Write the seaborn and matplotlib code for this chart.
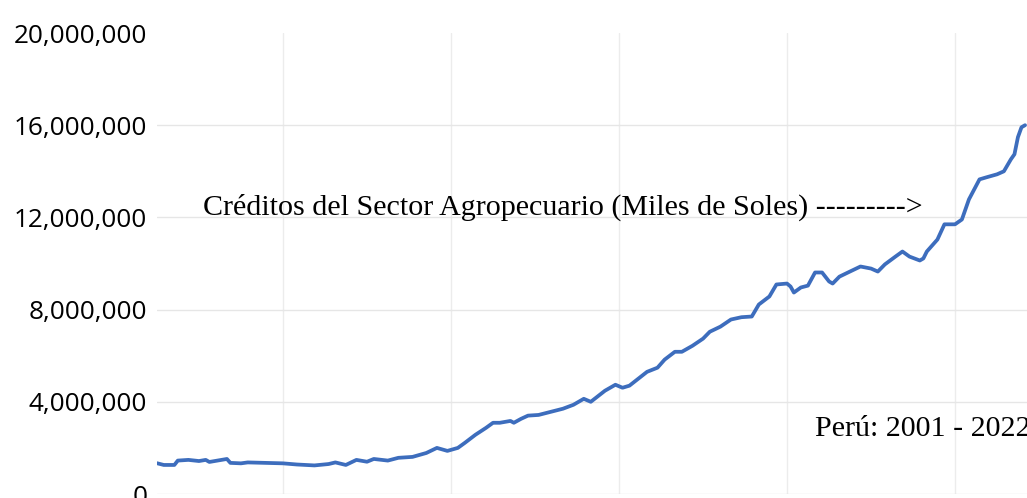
import numpy as np
import pandas as pd
import seaborn as sns
import matplotlib.pyplot as plt
import matplotlib.ticker as mticker

# creditos al sector agropecuario, miles de soles
fechas = ["2001-01", "2001-03", "2001-06", "2001-07", "2001-10", "2002-01", "2002-03",
          "2002-04", "2002-09", "2002-10", "2003-01", "2003-03", "2004-01", "2004-05",
          "2004-10", "2005-02", "2005-04", "2005-07", "2005-10", "2006-01", "2006-03",
          "2006-07", "2006-10", "2007-02", "2007-06", "2007-09", "2007-12", "2008-03",
          "2008-05", "2008-08", "2008-11", "2009-01", "2009-03", "2009-06", "2009-07",
          "2009-09", "2009-11", "2010-02", "2010-09", "2010-12", "2011-03", "2011-05",
          "2011-09", "2011-12", "2012-02", "2012-04", "2012-09", "2012-12", "2013-02",
          "2013-05", "2013-07", "2013-10", "2014-01", "2014-03", "2014-06", "2014-09",
          "2014-12", "2015-03", "2015-05", "2015-08", "2015-10", "2016-01", "2016-02",
          "2016-03", "2016-05", "2016-07", "2016-09", "2016-11", "2017-01", "2017-02",
          "2017-04", "2017-07", "2017-10", "2018-01", "2018-03", "2018-05", "2018-08",
          "2018-10", "2018-12", "2019-03", "2019-04", "2019-05", "2019-08", "2019-10",
          "2020-01", "2020-03", "2020-05", "2020-08", "2020-10", "2021-01", "2021-03",
          "2021-05", "2021-06", "2021-07", "2021-08", "2021-09"]
creditos = [1335000, 1260000, 1260000, 1450000, 1480000, 1430000, 1480000,
            1390000, 1520000, 1350000, 1330000, 1370000, 1330000, 1280000,
            1240000, 1300000, 1370000, 1260000, 1480000, 1400000, 1520000,
            1450000, 1570000, 1610000, 1780000, 2000000, 1870000, 2000000,
            2220000, 2570000, 2870000, 3090000, 3090000, 3170000, 3090000,
            3260000, 3400000, 3430000, 3700000, 3870000, 4130000, 4000000,
            4480000, 4740000, 4610000, 4700000, 5300000, 5480000, 5830000,
            6170000, 6170000, 6430000, 6740000, 7040000, 7260000, 7570000,
            7670000, 7700000, 8220000, 8570000, 9090000, 9130000, 9000000,
            8740000, 8960000, 9040000, 9610000, 9610000, 9220000, 9130000,
            9430000, 9650000, 9870000, 9780000, 9650000, 9960000, 10300000,
            10520000, 10300000, 10130000, 10220000, 10520000, 11040000, 11700000,
            11700000, 11910000, 12780000, 13650000, 13740000, 13870000, 14000000,
            14520000, 14740000, 15480000, 15910000, 16000000]
y_ticks = [0, 4000000, 8000000, 12000000, 16000000, 20000000]
x_grid = ["2004-01-01", "2008-01-01", "2012-01-01", "2016-01-01", "2020-01-01"]

df = pd.DataFrame({"fecha": pd.to_datetime(fechas), "creditos": creditos})

sns.set_theme(style="white")
fig = plt.figure(figsize=(10.27, 4.98), dpi=100)
ax = fig.add_axes([157 / 1027, 4 / 498, 870 / 1027, 461 / 498])

for d in pd.to_datetime(x_grid):
    ax.axvline(d, color="#ececec", lw=1, zorder=0)
for v in y_ticks[:-1]:
    ax.axhline(v, color="#e6e6e6", lw=1, zorder=0)

sns.lineplot(data=df, x="fecha", y="creditos", ax=ax, color="#3d6dbd", lw=2.7)

ax.set_xlim(pd.Timestamp("2001-01-01"), pd.Timestamp("2021-09-18"))
ax.set_ylim(0, 20000000)
ax.set_yticks(y_ticks)
ax.yaxis.set_major_formatter(mticker.FuncFormatter(lambda v, p: f"{int(v):,}"))
for lbl in ax.get_yticklabels():
    lbl.set_fontfamily("Open Sans")
    lbl.set_fontsize(18.8)
    lbl.set_color("#000000")
ax.tick_params(axis="y", length=0, pad=7)
ax.set_xticks([])
ax.set_xlabel("")
ax.set_ylabel("")
sns.despine(ax=ax, left=True, bottom=True)

ax.text(0.053, 0.621, "Créditos del Sector Agropecuario (Miles de Soles) --------->",
        transform=ax.transAxes, fontfamily="Liberation Serif", fontsize=21.6,
        color="#000000", va="center", ha="left")
ax.text(0.756, 0.142, "Perú: 2001 - 2022", transform=ax.transAxes,
        fontfamily="Liberation Serif", fontsize=21.6, color="#000000",
        va="center", ha="left", clip_on=False)

fig.savefig("out.png", dpi=100)
